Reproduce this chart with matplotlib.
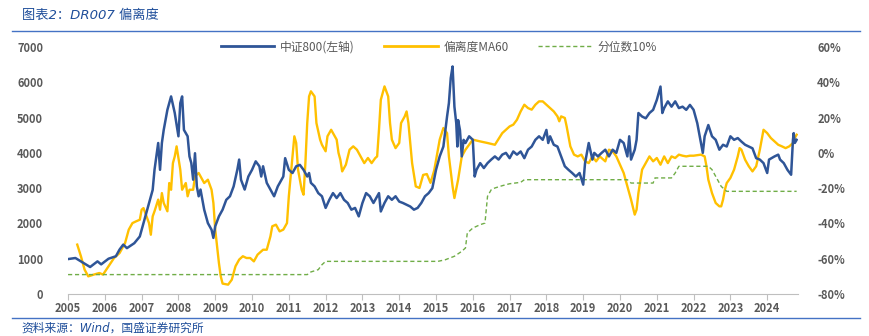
import matplotlib.pyplot as plt
from matplotlib.lines import Line2D

plt.rcParams['font.family'] = ['Noto Sans CJK SC', 'DejaVu Sans']

# 中证800 (left axis)
csi_t = [2005.0, 2005.2, 2005.5, 2005.6, 2005.8, 2005.9, 2006.1, 2006.3, 2006.4, 2006.5,
         2006.6, 2006.8, 2006.95, 2007.1, 2007.2, 2007.3, 2007.35, 2007.4, 2007.45, 2007.5,
         2007.55, 2007.6, 2007.7, 2007.75, 2007.8, 2007.9, 2008.0, 2008.05, 2008.1, 2008.15,
         2008.25, 2008.3, 2008.35, 2008.4, 2008.45, 2008.5, 2008.55, 2008.6, 2008.7, 2008.8,
         2008.9, 2008.95, 2009.0, 2009.1, 2009.2, 2009.3, 2009.4, 2009.5, 2009.6, 2009.65,
         2009.7, 2009.8, 2009.9, 2010.0, 2010.1, 2010.2, 2010.25, 2010.3, 2010.4, 2010.5,
         2010.6, 2010.7, 2010.8, 2010.85, 2010.9, 2011.0, 2011.1, 2011.2, 2011.3, 2011.4,
         2011.5, 2011.55, 2011.6, 2011.7, 2011.8, 2011.9, 2012.0, 2012.1, 2012.2, 2012.3,
         2012.4, 2012.5, 2012.6, 2012.7, 2012.8, 2012.9, 2013.0, 2013.1, 2013.2, 2013.3,
         2013.4, 2013.45, 2013.5, 2013.6, 2013.7, 2013.8, 2013.9, 2014.0, 2014.1, 2014.2,
         2014.3, 2014.4, 2014.5, 2014.6, 2014.7, 2014.8, 2014.9, 2015.0, 2015.1, 2015.2,
         2015.3, 2015.35, 2015.4, 2015.45, 2015.5, 2015.55, 2015.58, 2015.6, 2015.65, 2015.7,
         2015.75, 2015.8, 2015.9, 2016.0, 2016.05, 2016.1, 2016.2, 2016.3, 2016.4, 2016.5,
         2016.6, 2016.7, 2016.8, 2016.9, 2017.0, 2017.1, 2017.2, 2017.3, 2017.4, 2017.5,
         2017.6, 2017.7, 2017.8, 2017.9, 2018.0, 2018.05, 2018.1, 2018.2, 2018.3, 2018.4,
         2018.5, 2018.6, 2018.7, 2018.8, 2018.9, 2019.0, 2019.05, 2019.15, 2019.25, 2019.3,
         2019.4, 2019.5, 2019.6, 2019.7, 2019.8, 2019.9, 2020.0, 2020.1, 2020.2, 2020.25,
         2020.3, 2020.4, 2020.45, 2020.5, 2020.6, 2020.7, 2020.8, 2020.9, 2021.0, 2021.1,
         2021.15, 2021.2, 2021.3, 2021.4, 2021.5, 2021.6, 2021.7, 2021.8, 2021.9, 2022.0,
         2022.05, 2022.1, 2022.15, 2022.25, 2022.3, 2022.4, 2022.5, 2022.6, 2022.7, 2022.8,
         2022.9, 2023.0, 2023.1, 2023.2, 2023.3, 2023.4, 2023.5, 2023.6, 2023.7, 2023.8,
         2023.9, 2024.0, 2024.05, 2024.2, 2024.3, 2024.35, 2024.45, 2024.55, 2024.65, 2024.7,
         2024.72, 2024.75, 2024.8]
csi_v = [990, 1020, 830, 765, 925, 840, 1000, 1070, 1260, 1400,
         1300, 1440, 1630, 2200, 2580, 2950, 3520, 3900, 4280, 3520,
         4280, 4650, 5220, 5410, 5600, 5130, 4470, 5410, 5600, 4650,
         4470, 3900, 3710, 3240, 3990, 3050, 2770, 2960, 2390, 2010,
         1820, 1590, 1920, 2200, 2390, 2670, 2770, 3050, 3520, 3810,
         3240, 2960, 3330, 3520, 3760, 3620, 3330, 3620, 3150, 2960,
         2770, 3050, 3240, 3330, 3850, 3520, 3430, 3620, 3660, 3520,
         3330, 3430, 3150, 3050, 2860, 2770, 2440, 2670, 2860, 2720,
         2860, 2670, 2580, 2390, 2440, 2200, 2580, 2860, 2770, 2580,
         2770, 2860, 2340, 2580, 2770, 2670, 2770, 2620, 2580, 2530,
         2480, 2390, 2440, 2580, 2770, 2860, 3000, 3520, 3900, 4180,
         5030, 5410, 6120, 6450, 5310, 4840, 4180, 4930, 4650, 3900,
         4370, 4280, 4470, 4370, 3330, 3520, 3710, 3570, 3710, 3810,
         3900, 3810, 3950, 4000, 3850, 4040, 3950, 4040, 3850, 4090,
         4180, 4370, 4470, 4370, 4650, 4280, 4470, 4230, 4180, 3900,
         3620, 3520, 3430, 3330, 3430, 3100, 3710, 4280, 3810, 4000,
         3900, 4000, 4090, 3900, 4090, 4000, 4370, 4280, 3900, 4470,
         3810, 4090, 4370, 5130, 5030, 4980, 5130, 5220, 5500, 5880,
         5130, 5270, 5460, 5310, 5460, 5270, 5310, 5220, 5360, 5220,
         5030, 4840, 4560, 4000, 4470, 4790, 4470, 4370, 4090, 4230,
         4180, 4470, 4370, 4420, 4320, 4230, 4180, 4130, 3850, 3810,
         3710, 3430, 3810, 3900, 3950, 3810, 3710, 3520, 3380, 4370,
         4560, 4280, 4370]

# 偏离度MA60 (right axis, %)
dev_t = [2005.25, 2005.35, 2005.45, 2005.55, 2005.7, 2005.85, 2005.95, 2006.1, 2006.25, 2006.4,
         2006.55, 2006.65, 2006.75, 2006.85, 2006.95, 2007.0, 2007.05, 2007.1, 2007.2, 2007.25,
         2007.3, 2007.35, 2007.45, 2007.5, 2007.55, 2007.6, 2007.7, 2007.75, 2007.8, 2007.85,
         2007.9, 2007.95, 2008.05, 2008.1, 2008.2, 2008.25, 2008.3, 2008.4, 2008.45, 2008.55,
         2008.6, 2008.7, 2008.8, 2008.9, 2008.95, 2009.0, 2009.05, 2009.1, 2009.15, 2009.2,
         2009.35, 2009.45, 2009.55, 2009.65, 2009.75, 2009.85, 2009.95, 2010.05, 2010.15, 2010.3,
         2010.4, 2010.5, 2010.55, 2010.65, 2010.75, 2010.85, 2010.95, 2011.0, 2011.05, 2011.1,
         2011.15, 2011.2, 2011.25, 2011.35, 2011.4, 2011.45, 2011.5, 2011.55, 2011.6, 2011.7,
         2011.75, 2011.85, 2011.9, 2012.0, 2012.05, 2012.15, 2012.2, 2012.3, 2012.35, 2012.4,
         2012.45, 2012.55, 2012.65, 2012.75, 2012.85, 2012.95, 2013.05, 2013.15, 2013.25, 2013.35,
         2013.4, 2013.45, 2013.5, 2013.6, 2013.7, 2013.75, 2013.8, 2013.9, 2014.0, 2014.05,
         2014.15, 2014.2, 2014.25, 2014.3, 2014.35, 2014.45, 2014.55, 2014.65, 2014.75, 2014.85,
         2014.95, 2015.1, 2015.2, 2015.3, 2015.35, 2015.45, 2015.5, 2015.6, 2015.7, 2015.8,
         2015.9, 2016.0, 2016.2, 2016.4, 2016.6, 2016.8, 2017.0, 2017.1, 2017.2, 2017.3,
         2017.4, 2017.5, 2017.6, 2017.7, 2017.8, 2017.9, 2018.0, 2018.1, 2018.2, 2018.3,
         2018.35, 2018.4, 2018.5, 2018.55, 2018.6, 2018.65, 2018.75, 2018.85, 2018.95, 2019.05,
         2019.15, 2019.25, 2019.35, 2019.45, 2019.6, 2019.7, 2019.8, 2019.9, 2020.0, 2020.1,
         2020.2, 2020.3, 2020.4, 2020.45, 2020.5, 2020.6, 2020.7, 2020.8, 2020.9, 2021.0,
         2021.1, 2021.2, 2021.3, 2021.4, 2021.5, 2021.6, 2021.7, 2021.8, 2021.9, 2022.0,
         2022.2, 2022.3, 2022.35, 2022.4, 2022.5, 2022.6, 2022.7, 2022.75, 2022.8, 2022.85,
         2022.9, 2023.0, 2023.1, 2023.2, 2023.25, 2023.3, 2023.4, 2023.5, 2023.6, 2023.7,
         2023.8, 2023.9, 2024.0, 2024.1, 2024.2, 2024.3, 2024.4, 2024.5, 2024.6, 2024.7,
         2024.75, 2024.8]
dev_v = [-52.0, -58.6, -66.2, -70.0, -69.0, -68.1, -69.0, -64.3, -59.6, -56.8,
         -51.1, -43.5, -39.8, -38.8, -37.9, -32.2, -31.3, -34.1, -39.8, -46.4,
         -36.0, -33.1, -26.5, -32.2, -22.8, -28.4, -33.1, -17.1, -20.9, -5.8,
         -2.0, 3.7, -9.5, -20.9, -17.1, -24.6, -20.9, -20.9, -13.3, -11.4,
         -13.3, -17.1, -15.2, -20.9, -28.4, -43.5, -53.0, -62.4, -70.0, -74.1,
         -74.7, -71.9, -64.3, -60.5, -58.6, -59.6, -59.6, -61.5, -57.7, -54.9,
         -54.9, -47.3, -41.6, -40.7, -44.5, -43.5, -39.8, -24.6, -13.3, -2.0,
         9.4, 5.6, -9.5, -20.9, -23.7, -5.8, 16.9, 32.0, 34.9, 32.0,
         16.9, 7.5, 4.6, 0.9, 9.4, 13.1, 11.2, 7.5, 0.0, -3.9,
         -10.5, -6.7, 1.8, 3.7, 1.8, -2.0, -5.8, -2.9, -5.8, -2.9,
         -2.0, 13.1, 30.1, 37.7, 32.0, 16.9, 7.5, 2.7, 5.6, 16.9,
         20.7, 23.5, 16.9, 5.6, -5.8, -19.0, -19.9, -12.5, -12.0, -17.0,
         -10.0, 7.5, 14.1, 11.2, -2.0, -19.0, -25.6, -15.2, -2.0, 1.8,
         4.6, 7.5, 6.5, 5.6, 4.6, 11.2, 15.0, 16.0, 18.8, 23.5,
         27.3, 25.4, 24.5, 27.3, 29.2, 29.2, 27.3, 25.4, 23.5, 20.7,
         17.9, 20.7, 19.8, 15.0, 9.4, 3.7, -1.0, -2.0, -1.0, -4.8,
         -5.8, -2.0, -4.8, -2.0, -4.8, 1.8, 0.9, -2.0, -6.7, -11.4,
         -19.0, -26.5, -35.0, -32.2, -22.8, -9.5, -5.8, -2.0, -4.8, -2.9,
         -6.7, -2.0, -5.8, -2.0, -2.9, -1.0, -1.6, -2.0, -1.6, -1.6,
         -1.0, -2.0, -7.6, -15.2, -22.8, -28.4, -30.3, -30.3, -26.5, -20.9,
         -17.1, -14.2, -9.5, -2.0, 2.7, 1.8, -3.9, -7.6, -10.5, -7.6,
         1.8, 13.1, 11.2, 8.4, 6.5, 4.6, 3.7, 2.7, 3.7, 5.6,
         8.4, 10.3]

# 分位数10% (right axis, %)
q_t = [2005.0, 2011.5, 2011.6, 2011.8, 2011.9, 2012.0, 2015.05, 2015.25, 2015.5, 2015.7,
       2015.8, 2015.85, 2015.9, 2016.0, 2016.2, 2016.33, 2016.4, 2016.5, 2016.6, 2016.8,
       2017.0, 2017.3, 2017.4, 2020.2, 2020.3, 2020.9, 2020.95, 2021.4, 2021.5, 2021.6,
       2022.4, 2022.5, 2022.6, 2022.75, 2022.9, 2024.8]
q_v = [-69.0, -69.0, -67.5, -66.2, -63.4, -61.5, -61.5, -60.6, -58.6, -55.8,
       -53.9, -45.4, -44.5, -42.6, -40.7, -39.8, -24.6, -20.9, -19.9, -18.6,
       -17.5, -16.7, -15.2, -15.2, -17.1, -17.1, -14.2, -14.2, -11.4, -7.6,
       -7.6, -9.5, -13.3, -19.0, -21.8, -21.8]

years = list(range(2005, 2025))

blue = '#2F5597'
yellow = '#FFC000'
green = '#70AD47'
gray = '#595959'

fig = plt.figure(figsize=(8.69, 3.36), dpi=100)
ax = fig.add_axes([0.0783, 0.125, 0.8397, 0.735])
ax2 = ax.twinx()

ax.plot(csi_t, csi_v, color=blue, lw=1.8, zorder=3)
ax2.plot(dev_t, dev_v, color=yellow, lw=1.7)
ax2.plot(q_t, q_v, color=green, lw=1.0, ls=(0, (3, 2)))

ax.set_zorder(ax2.get_zorder() + 1)
ax.patch.set_visible(False)

ax.set_xlim(2005, 2024.83)
ax.set_ylim(0, 7000)
ax2.set_ylim(-80, 60)
ax.set_yticks(range(0, 7001, 1000))
ax2.set_yticks(range(-80, 61, 20))
ax2.set_yticklabels([f'{v}%' for v in range(-80, 61, 20)])
ax.set_xticks(years)
ax.set_xticklabels([str(y) for y in years])

for a in (ax, ax2):
    for s in a.spines.values():
        s.set_visible(False)
    a.tick_params(axis='y', length=0, labelsize=8, labelcolor=gray)
    for lab in a.get_yticklabels():
        lab.set_fontweight('bold')
ax.spines['bottom'].set_visible(True)
ax.spines['bottom'].set_color('#BFBFBF')
ax.tick_params(axis='x', length=4, color='#BFBFBF', labelsize=8, labelcolor=gray, pad=2)
for lab in ax.get_xticklabels():
    lab.set_fontweight('bold')
ax.tick_params(axis='y', pad=18)
ax2.tick_params(axis='y', pad=14)

handles = [Line2D([], [], color=blue, lw=2),
           Line2D([], [], color=yellow, lw=2),
           Line2D([], [], color=green, lw=1, ls=(0, (3, 2)))]
labels = ['中证800(左轴)', '偏离度MA60', '分位数10%']
leg = fig.legend(handles, labels, loc='center', bbox_to_anchor=(0.505, 0.86), ncol=3,
                 frameon=False, fontsize=8.5, handlelength=4.5, columnspacing=2.5,
                 handletextpad=0.5)
for t in leg.get_texts():
    t.set_color(gray)

# header and footer (Latin glyphs in DejaVu italic, CJK falls back to Noto)
hdr_font = ['DejaVu Sans', 'Noto Sans CJK SC']
fig.text(0.025, 0.955, '图表2：DR007 偏离度', color='#1F4E9A', fontsize=9.5,
         style='italic', va='center', family=hdr_font)
fig.add_artist(Line2D([0.014, 0.99], [0.907, 0.907], color='#4472C4', lw=1))
fig.add_artist(Line2D([0.014, 0.99], [0.054, 0.054], color='#4472C4', lw=1))
fig.text(0.025, 0.022, '资料来源：Wind，国盛证券研究所', color='#1F4E9A', fontsize=8.5,
         style='italic', va='center', family=hdr_font)

fig.savefig('out.png', dpi=100)
